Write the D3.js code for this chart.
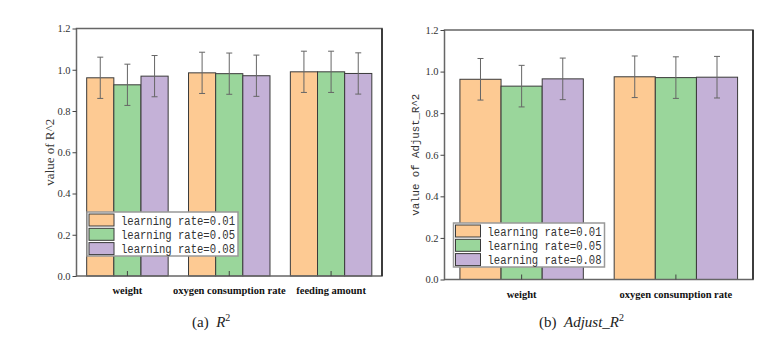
<html>
  <head>
    <style>
      body { margin: 0; background: #fff; }
    </style>
  </head>
  <body>
    <script src="https://d3js.org/d3.v7.min.js"></script>
    <svg id="chart" width="782" height="337"></svg>
    <script>
      // data
      const seriesNames = ['learning rate=0.01', 'learning rate=0.05', 'learning rate=0.08'];
      const colors = ['#fdca93', '#9ad69b', '#c4b1d7'];
      const yTicks = [0, 0.2, 0.4, 0.6, 0.8, 1.0, 1.2];

      const catsA = ['weight', 'oxygen consumption rate', 'feeding amount'];
      const r2_lr001 = [0.961, 0.985, 0.990];
      const r2_lr005 = [0.927, 0.981, 0.990];
      const r2_lr008 = [0.969, 0.971, 0.982];
      const r2_err = [0.1, 0.1, 0.1];

      const catsB = ['weight', 'oxygen consumption rate'];
      const adj_lr001 = [0.963, 0.975];
      const adj_lr005 = [0.930, 0.971];
      const adj_lr008 = [0.965, 0.973];
      const adj_err = [0.1, 0.1];

      const SERIF = "'Liberation Serif', 'Times New Roman', serif";
      const MONO = "'Liberation Mono', 'DejaVu Sans Mono', monospace";

      const svg = d3.select('#chart');

      const drawPanel = (opt) => {
        const g = svg.append('g');
        const y = d3.scaleLinear().domain([0, 1.2]).range([opt.bottom, opt.top]);
        const x = d3.scaleBand().domain(opt.cats)
          .range([opt.left, opt.right])
          .paddingInner(0.2).paddingOuter(0.1);
        const xs = d3.scaleBand().domain([0, 1, 2]).range([0, x.bandwidth()]);

        const rows = [];
        opt.cats.forEach((c, i) => {
          opt.series.forEach((s, j) => rows.push({ cat: c, k: j, v: s[i], e: opt.err[i] }));
        });

        g.selectAll('rect.bar')
          .data(rows)
          .enter()
          .append('rect')
          .attr('class', 'bar')
          .attr('x', (d) => x(d.cat) + xs(d.k))
          .attr('y', (d) => y(d.v))
          .attr('width', xs.bandwidth())
          .attr('height', (d) => y(0) - y(d.v))
          .attr('fill', (d) => colors[d.k])
          .attr('stroke', '#3a3a3a')
          .attr('stroke-width', 1);

        // error bars
        const eb = g.selectAll('g.err').data(rows).enter().append('g')
          .attr('transform', (d) => `translate(${x(d.cat) + xs(d.k) + xs.bandwidth() / 2},0)`)
          .attr('stroke', '#666').attr('stroke-width', 1);
        eb.append('line').attr('y1', (d) => y(d.v + d.e)).attr('y2', (d) => y(d.v - d.e));
        eb.append('line').attr('x1', -3).attr('x2', 3).attr('y1', (d) => y(d.v + d.e)).attr('y2', (d) => y(d.v + d.e));
        eb.append('line').attr('x1', -3).attr('x2', 3).attr('y1', (d) => y(d.v - d.e)).attr('y2', (d) => y(d.v - d.e));

        // frame
        g.append('rect')
          .attr('x', opt.left).attr('y', opt.top)
          .attr('width', opt.right - opt.left).attr('height', opt.bottom - opt.top)
          .attr('fill', 'none').attr('stroke', '#666').attr('stroke-width', 1.5);
        g.append('line').attr('x1', opt.right).attr('x2', opt.right)
          .attr('y1', opt.top).attr('y2', opt.bottom).attr('stroke', '#222').attr('stroke-width', 1.5);

        // y axis
        const ya = g.append('g')
          .attr('transform', `translate(${opt.left},0)`)
          .call(d3.axisLeft(y).tickValues(yTicks).tickFormat(d3.format('.1f')).tickSize(4).tickPadding(2));
        ya.select('.domain').remove();
        ya.selectAll('line').attr('stroke', '#444');
        ya.selectAll('text').attr('font-family', SERIF).attr('font-size', 10.5).attr('fill', '#333');

        // x axis, ticks pointing in
        const xa = g.append('g')
          .attr('transform', `translate(0,${opt.bottom})`)
          .call(d3.axisBottom(x).tickSize(-5).tickPadding(11));
        xa.select('.domain').remove();
        xa.selectAll('line').attr('stroke', '#444');
        xa.selectAll('text').attr('font-family', SERIF).attr('font-size', 10.5)
          .attr('font-weight', 'bold').attr('fill', '#111');

        // y label
        const yl = g.append('text')
          .attr('transform', `translate(${opt.ylabX},${(opt.top + opt.bottom) / 2}) rotate(-90)`)
          .attr('text-anchor', 'middle')
          .attr('font-family', opt.ylabFont).attr('font-size', opt.ylabSize)
          .attr('fill', '#333')
          .text(opt.ylab);
        if (opt.ylabLen) yl.attr('textLength', opt.ylabLen).attr('lengthAdjust', 'spacingAndGlyphs');

        // legend
        const lg = g.append('g').attr('transform', `translate(${opt.legX},${opt.legY})`);
        lg.append('rect').attr('width', 151).attr('height', 44)
          .attr('fill', '#fff').attr('stroke', '#999').attr('stroke-width', 1.5);
        seriesNames.forEach((n, i) => {
          lg.append('rect').attr('x', 2).attr('y', 2 + i * 14.3)
            .attr('width', 25).attr('height', 12)
            .attr('fill', colors[i]).attr('stroke', '#3a3a3a').attr('stroke-width', 1);
          lg.append('text').attr('x', 34).attr('y', 12.5 + i * 14.3)
            .attr('font-family', MONO).attr('font-size', 12)
            .attr('textLength', 114).attr('lengthAdjust', 'spacingAndGlyphs')
            .attr('fill', '#333')
            .text(n);
        });
      };

      drawPanel({
        cats: catsA, series: [r2_lr001, r2_lr005, r2_lr008], err: r2_err,
        left: 76.5, right: 382, top: 28.5, bottom: 276,
        ylab: 'value of R^2', ylabX: 54, ylabFont: SERIF, ylabSize: 13,
        legX: 87, legY: 212
      });

      drawPanel({
        cats: catsB, series: [adj_lr001, adj_lr005, adj_lr008], err: adj_err,
        left: 444.5, right: 753, top: 30, bottom: 279.5,
        ylab: 'value of Adjust_R^2', ylabX: 419, ylabFont: MONO, ylabSize: 11, ylabLen: 122,
        legX: 453.5, legY: 223
      });

      // captions
      const cap = (x, label, it) => {
        const t = svg.append('text').attr('x', x).attr('y', 327)
          .attr('font-family', SERIF).attr('font-size', 15).attr('fill', '#222');
        t.append('tspan').text(label + '\u00a0\u00a0');
        t.append('tspan').attr('font-style', 'italic').text(it);
        t.append('tspan').attr('font-size', 10).attr('dy', -6).text('2');
      };
      cap(192, '(a)', 'R');
      cap(539, '(b)', 'Adjust_R');
    </script>
  </body>
</html>
